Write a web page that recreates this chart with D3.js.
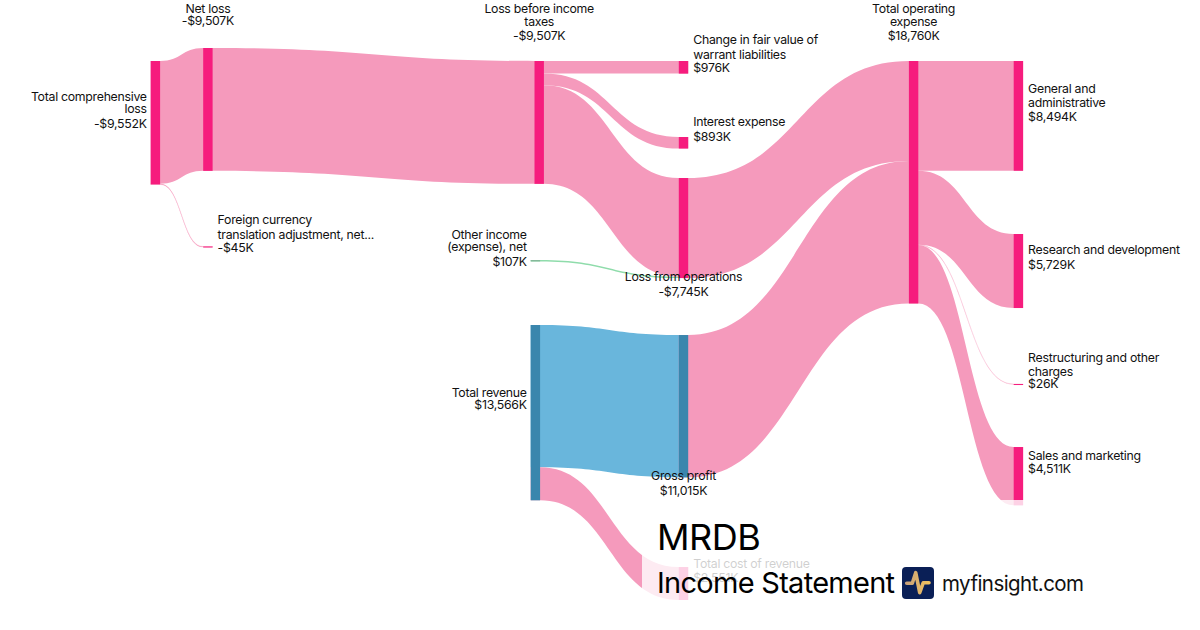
<!DOCTYPE html>
<html>
<head>
<meta charset="utf-8">
<script src="https://cdn.jsdelivr.net/npm/d3@7"></script>
<style>
  html, body { margin: 0; background: #fff; }
  svg { display: block; font-family: Inter, sans-serif; }
</style>
</head>
<body>
<div id="chart"></div>
<script>
// data, $K
const nodeNames = [
  'Total comprehensive loss', 'Net loss', 'Foreign currency translation adjustment, net',
  'Loss before income taxes', 'Other income (expense), net', 'Total revenue',
  'Change in fair value of warrant liabilities', 'Interest expense', 'Loss from operations',
  'Gross profit', 'Total cost of revenue', 'Total operating expense',
  'General and administrative', 'Research and development',
  'Restructuring and other charges', 'Sales and marketing'
];
const nodeValues = ['-$9,552K', '-$9,507K', '-$45K', '-$9,507K', '$107K', '$13,566K', '$976K', '$893K',
  '-$7,745K', '$11,015K', '$2,551K', '$18,760K', '$8,494K', '$5,729K', '$26K', '$4,511K'];
const linkSources = [0, 0, 1, 3, 3, 3, 4, 5, 5, 8, 9, 11, 11, 11, 11];
const linkTargets = [1, 2, 3, 6, 7, 8, 8, 9, 10, 11, 11, 12, 13, 14, 15];
const linkValues = [9507, 45, 9507, 976, 893, 7638, 107, 11015, 2551, 7745, 11015, 8494, 5729, 26, 4511];
const linkKinds = ['loss', 'loss', 'loss', 'loss', 'loss', 'loss', 'gain', 'rev', 'loss', 'loss', 'loss', 'loss', 'loss', 'loss', 'loss'];

// layout, kept apart from the data
const nodeColumns = ['a', 'b', 'b', 'c', 'c2', 'c2', 'd', 'd', 'd', 'd', 'd', 'e', 'f', 'f', 'f', 'f'];
const nodeKinds = ['loss', 'loss', 'loss', 'loss', 'gain', 'rev', 'loss', 'loss', 'loss', 'rev', 'loss', 'loss', 'loss', 'loss', 'loss', 'loss'];
const nodeTops = [1006, 0, 15364, 1006, 16409, 21440, 1006, 6888, 10062, 22214, 40170, 1006, 1006, 14396, 26006, 30882];

const labelLines = [
  ['Total comprehensive', 'loss'], ['Net loss'], ['Foreign currency', 'translation adjustment, net...'],
  ['Loss before income', 'taxes'], ['Other income', '(expense), net'], ['Total revenue'],
  ['Change in fair value of', 'warrant liabilities'], ['Interest expense'], ['Loss from operations'],
  ['Gross profit'], ['Total cost of revenue'], ['Total operating', 'expense'],
  ['General and', 'administrative'], ['Research and development'],
  ['Restructuring and other', 'charges'], ['Sales and marketing']
];
const labelSides = ['left', 'mid', 'right', 'mid', 'left', 'left', 'right', 'right', 'mid', 'mid', 'right', 'mid', 'right', 'right', 'right', 'right'];
const labelRows = [[97, 109, 124], [9, 21], [220, 235, 248], [9, 22, 36], [235, 247, 262], [393, 405],
  [40, 55, 68], [122, 137], [277, 292], [476, 491], [564, 578], [9, 22, 36], [89, 103, 117], [250, 265], [358, 372, 384], [456, 469]];

const width = 1200, height = 630, nodeWidth = 9.4;
const nodeFill = { loss: '#f61c7d', rev: '#3a86ad', gain: '#86b89a' };
const linkFill = { loss: '#f59abc', rev: '#69b6dc', gain: '#8fdcab' };

const x = d3.scaleOrdinal()
  .domain(['a', 'b', 'c', 'c2', 'd', 'e', 'f'])
  .range([150.7, 203.2, 534.5, 530.7, 678.8, 908.9, 1013.7]);
const y = d3.scaleLinear().domain([0, 42721]).range([48, 600]);
const h = v => y(v) - y(0);

const svg = d3.select('#chart').append('svg')
  .attr('width', width)
  .attr('height', height)
  .attr('viewBox', `0 0 ${width} ${height}`);

const nodes = nodeNames.map((name, i) => {
  const inSum = d3.sum(linkValues.filter((_, k) => linkTargets[k] === i));
  const outSum = d3.sum(linkValues.filter((_, k) => linkSources[k] === i));
  return { i, name, size: Math.max(inSum, outSum), x0: x(nodeColumns[i]), y0: y(nodeTops[i]), inY: y(nodeTops[i]), outY: y(nodeTops[i]) };
});

// stack the links inside each node, in array order
const links = linkValues.map((value, k) => {
  const s = nodes[linkSources[k]], t = nodes[linkTargets[k]];
  const w = h(value);
  const l = { value, w, kind: linkKinds[k], x0: s.x0 + nodeWidth, x1: t.x0, sy: s.outY, ty: t.inY };
  s.outY += w;
  t.inY += w;
  return l;
});

function ribbon(l) {
  const p = d3.path(), xm = (l.x0 + l.x1) / 2;
  p.moveTo(l.x0 - nodeWidth, l.sy);
  p.lineTo(l.x0, l.sy);
  p.bezierCurveTo(xm, l.sy, xm, l.ty, l.x1, l.ty);
  p.lineTo(l.x1 + nodeWidth, l.ty);
  p.lineTo(l.x1 + nodeWidth, l.ty + l.w);
  p.lineTo(l.x1, l.ty + l.w);
  p.bezierCurveTo(xm, l.ty + l.w, xm, l.sy + l.w, l.x0, l.sy + l.w);
  p.lineTo(l.x0 - nodeWidth, l.sy + l.w);
  p.closePath();
  return p.toString();
}

svg.append('g').selectAll('path').data(links).enter()
  .append('path')
  .attr('d', ribbon)
  .attr('fill', d => linkFill[d.kind])
  // hairline links would vanish otherwise
  .attr('stroke', d => d.w < 1 ? linkFill[d.kind] : 'none')
  .attr('stroke-width', 0.5)
  .attr('stroke-opacity', 0.45);

svg.append('g').selectAll('rect').data(nodes).enter()
  .append('rect')
  .attr('x', d => d.x0)
  .attr('y', d => d.y0)
  .attr('width', nodeWidth)
  .attr('height', d => Math.max(h(d.size), 1))
  .attr('fill', d => nodeFill[nodeKinds[d.i]]);

// labels
const labels = svg.append('g').attr('font-size', 12.3).attr('letter-spacing', -0.28).attr('fill', '#111');
nodes.forEach(n => {
  const side = labelSides[n.i];
  const lx = side === 'left' ? n.x0 - 4 : side === 'right' ? n.x0 + nodeWidth + 5 : n.x0 + nodeWidth / 2;
  const anchor = side === 'left' ? 'end' : side === 'right' ? 'start' : 'middle';
  labelLines[n.i].concat(nodeValues[n.i]).forEach((line, r) => {
    labels.append('text')
      .attr('x', lx)
      .attr('y', labelRows[n.i][r] - 0.6)
      .attr('dy', '0.36em')
      .attr('text-anchor', anchor)
      .text(line);
  });
});

// white panel under the title washes out the bottom of the chart
svg.append('rect')
  .attr('x', 642).attr('y', 500)
  .attr('width', 558).attr('height', 130)
  .attr('fill', '#fff').attr('opacity', 0.8);

svg.append('text').attr('x', 657).attr('y', 550).attr('font-size', 36).attr('letter-spacing', -0.5).attr('fill', '#000').text('MRDB');
svg.append('text').attr('x', 657).attr('y', 593).attr('font-size', 29).attr('letter-spacing', -0.72).attr('fill', '#000').text('Income Statement');

const grad = svg.append('defs').append('linearGradient').attr('id', 'pulse');
grad.append('stop').attr('offset', '0%').attr('stop-color', '#c9a27a');
grad.append('stop').attr('offset', '100%').attr('stop-color', '#f2c25e');

const logo = svg.append('g').attr('transform', 'translate(902,567)');
logo.append('rect').attr('width', 32).attr('height', 32).attr('rx', 4).attr('fill', '#0a1f56');
logo.append('path')
  .attr('d', 'M4.7,16.3 L10.3,16.3 L13.7,5.7 L17.7,25.7 L21.3,15.7 L27,15.7')
  .attr('fill', 'none')
  .attr('stroke', 'url(#pulse)')
  .attr('stroke-width', 3.6)
  .attr('stroke-linecap', 'round')
  .attr('stroke-linejoin', 'round');

svg.append('text').attr('x', 942).attr('y', 591).attr('font-size', 20.5).attr('letter-spacing', -0.55).attr('fill', '#111').text('myfinsight.com');
</script>
</body>
</html>
